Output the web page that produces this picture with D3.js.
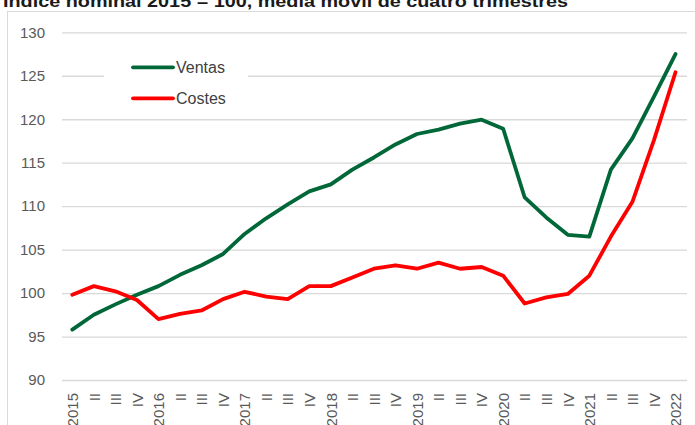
<!DOCTYPE html>
<html>
<head>
<meta charset="utf-8">
<script src="https://cdn.jsdelivr.net/npm/d3@7"></script>
<style>
  html, body { margin: 0; padding: 0; background: #fff; overflow: hidden; }
  svg { display: block; }
</style>
</head>
<body>
<svg id="chart" width="695" height="425"></svg>
<script>
const title = "Índice nominal 2015 = 100, media móvil de cuatro trimestres";
const quarters = ["2015","II","III","IV","2016","II","III","IV","2017","II","III","IV","2018","II","III","IV","2019","II","III","IV","2020","II","III","IV","2021","II","III","IV","2022"];
const ventas = [95.8, 97.5, 98.7, 99.8, 100.8, 102.1, 103.2, 104.5, 106.8, 108.6, 110.2, 111.7, 112.5, 114.2, 115.6, 117.1, 118.3, 118.8, 119.5, 119.95, 118.9, 111.0, 108.7, 106.7, 106.5, 114.2, 117.8, 122.6, 127.5];
const costes = [99.8, 100.8, 100.2, 99.2, 97.0, 97.6, 98.0, 99.3, 100.15, 99.6, 99.3, 100.8, 100.8, 101.8, 102.8, 103.2, 102.8, 103.5, 102.8, 103.0, 102.0, 98.8, 99.5, 99.9, 102.0, 106.5, 110.5, 117.6, 125.4];
const yTicks = [90, 95, 100, 105, 110, 115, 120, 125, 130];
const seriesNames = ["Ventas", "Costes"];
const seriesColors = ["#006838", "#ff0000"];

const svg = d3.select("#chart");
const font = "'Liberation Sans', Arial, sans-serif";

// frame
svg.append("rect").attr("x", 7.5).attr("y", 11.5).attr("width", 720).attr("height", 500)
  .attr("fill", "none").attr("stroke", "#d9d9d9").attr("stroke-width", 1);

// title
svg.append("text").attr("x", 3).attr("y", 7).text(title)
  .attr("font-family", font).attr("font-weight", "bold").attr("font-size", 16)
  .attr("fill", "#1a1a1a").attr("textLength", 565).attr("lengthAdjust", "spacingAndGlyphs");

const x = d3.scalePoint().domain(d3.range(quarters.length)).range([72.3, 675.5]);
const y = d3.scaleLinear().domain([90, 130]).range([380, 32.3]);

// gridlines
const yAxis = d3.axisLeft(y).tickValues(yTicks).tickSize(-(687 - 62)).tickPadding(17).tickFormat(d3.format("d"));
const gy = svg.append("g").attr("transform", "translate(62,0)").call(yAxis);
gy.select(".domain").remove();
gy.selectAll(".tick line").attr("stroke", "#d9d9d9").attr("stroke-width", 1.3);
gy.selectAll(".tick text").attr("font-family", font).attr("font-size", 15).attr("fill", "#595959");

// x axis labels
const xAxis = d3.axisBottom(x).tickSize(0).tickFormat(i => quarters[i]);
const gx = svg.append("g").attr("transform", "translate(0,380)").call(xAxis);
gx.select(".domain").remove();
gx.selectAll(".tick text")
  .attr("font-family", font).attr("font-size", 15).attr("fill", "#595959")
  .attr("transform", "rotate(-90)")
  .attr("text-anchor", "end")
  .attr("x", -13).attr("y", 0).attr("dy", "0.35em");

// lines
const line = d3.line().x((d, i) => x(i)).y(d => y(d));
[ventas, costes].forEach((s, k) => {
  svg.append("path").datum(s).attr("d", line)
    .attr("fill", "none").attr("stroke", seriesColors[k]).attr("stroke-width", 3.8)
    .attr("stroke-linejoin", "round").attr("stroke-linecap", "round");
});

// legend
const lg = svg.append("g");
lg.append("rect").attr("x", 104).attr("y", 50).attr("width", 144).attr("height", 62).attr("fill", "#fff");
const legY = [67.3, 98.3];
seriesNames.forEach((n, k) => {
  lg.append("line").attr("x1", 133).attr("x2", 173).attr("y1", legY[k]).attr("y2", legY[k])
    .attr("stroke", seriesColors[k]).attr("stroke-width", 3.8).attr("stroke-linecap", "round");
  lg.append("text").attr("x", 176).attr("y", legY[k]).attr("dy", "0.35em").text(n)
    .attr("font-family", font).attr("font-size", 16).attr("fill", "#404040");
});
</script>
</body>
</html>
